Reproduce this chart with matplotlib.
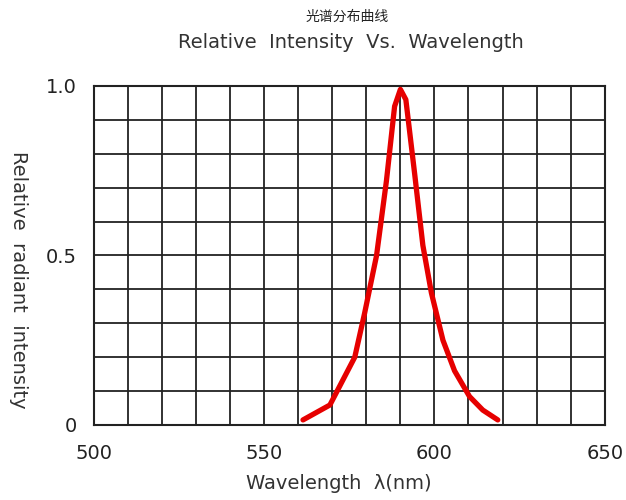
import numpy as np
import matplotlib.pyplot as plt
from matplotlib.ticker import MultipleLocator

# spectrum
wavelength = [561.4, 569.3, 576.6, 579.5, 583.0, 585.9, 588.3, 590.0, 591.6,
              594.2, 596.6, 599.1, 602.5, 605.9, 610.3, 614.2, 618.6]
intensity = [0.015, 0.059, 0.20, 0.33, 0.50, 0.72, 0.94, 0.99, 0.96,
             0.74, 0.53, 0.39, 0.25, 0.16, 0.084, 0.044, 0.015]

x_ticks = [500, 550, 600, 650]
y_ticks = [0, 0.5, 1.0]
y_labels = ['0', '0.5', '1.0']

fig = plt.figure(figsize=(6.26, 5.0), dpi=100)
ax = fig.add_axes([0.150, 0.150, 0.816, 0.678])

ax.plot(wavelength, intensity, color='#e60000', linewidth=3.8,
        solid_capstyle='round', solid_joinstyle='round', zorder=3)

ax.set_xlim(500, 650)
ax.set_ylim(0, 1.0)
ax.set_xticks(x_ticks)
ax.set_yticks(y_ticks)
ax.set_yticklabels(y_labels)
ax.xaxis.set_minor_locator(MultipleLocator(10))
ax.yaxis.set_minor_locator(MultipleLocator(0.1))
ax.grid(True, which='both', color='#222222', linewidth=1.3)
ax.tick_params(which='both', length=0)
ax.tick_params(axis='x', labelsize=14, pad=14, colors='#222222')
ax.tick_params(axis='y', labelsize=14, pad=12, colors='#222222')
for s in ax.spines.values():
    s.set_linewidth(1.5)
    s.set_color('#222222')

ax.set_xlabel('Wavelength  λ(nm)', fontsize=14, color='#333333', labelpad=5)
ax.xaxis.set_label_coords(0.48, -0.145)
fig.text(0.03, 0.44, 'Relative  radiant  intensity', rotation=270,
         ha='center', va='center', fontsize=14, color='#333333')

fig.text(0.555, 0.966, '光谱分布曲线', ha='center', va='center', fontsize=10,
         family=['Noto Sans CJK SC', 'DejaVu Sans'], color='#222222')
fig.text(0.56, 0.915, 'Relative  Intensity  Vs.  Wavelength', ha='center',
         va='center', fontsize=14, color='#333333')

fig.savefig('out.png', dpi=100)
